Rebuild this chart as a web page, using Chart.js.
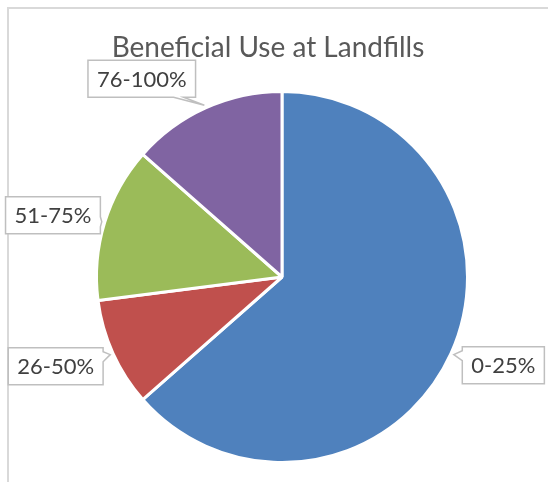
<!DOCTYPE html>
<html>
<head>
<meta charset="utf-8">
<script src="https://cdn.jsdelivr.net/npm/chart.js@4"></script>
<style>
  html, body { margin: 0; padding: 0; background: #fff; }
  #wrap { position: relative; width: 548px; height: 482px; }
  #frame {
    position: absolute; left: 7px; top: 7px; right: 0; bottom: 0;
    border-top: 2px solid #d9d9d9; border-left: 2px solid #d9d9d9;
  }
  canvas { position: absolute; left: 0; top: 0; }
</style>
</head>
<body>
<div id="wrap">
  <div id="frame"></div>
  <canvas id="landfillChart"></canvas>
</div>
<script>
const titleText = "Beneficial Use at Landfills";
const categories = ["0-25%", "26-50%", "51-75%", "76-100%"];
const landfillCounts = [47, 7, 10, 10];
const sliceColors = ["#4f81bd", "#c0504d", "#9bbb59", "#8064a2"];

const FONT = "Lato, 'Open Sans', sans-serif";
// shift of each callout box away from its default spot on the slice's mid-angle
const labelNudge = [[4, -10], [-9, -9], [-1, 8], [-42, 19]];

// callout boxes pointing at each slice, plus the title
const calloutLabels = {
  id: "calloutLabels",
  afterDraw(chart) {
    const ctx = chart.ctx;
    ctx.save();
    ctx.fillStyle = "#595959";
    ctx.font = "28px " + FONT;
    ctx.textAlign = "center";
    ctx.textBaseline = "middle";
    ctx.fillText(titleText, 268, 48);

    const meta = chart.getDatasetMeta(0);
    ctx.font = "22px " + FONT;
    meta.data.forEach((arc, i) => {
      const p = arc.getProps(["x", "y", "startAngle", "endAngle", "outerRadius"], true);
      const mid = (p.startAngle + p.endAngle) / 2;
      const dx = Math.cos(mid), dy = Math.sin(mid);
      const tipX = p.x + dx * (p.outerRadius + 3);
      const tipY = p.y + dy * (p.outerRadius + 3);
      const cx = p.x + dx * (p.outerRadius + 53) + labelNudge[i][0];
      const cy = p.y + dy * (p.outerRadius + 53) + labelNudge[i][1];
      const text = categories[i];
      const w = ctx.measureText(text).width + 18;
      const h = 37;
      const l = cx - w / 2, r = cx + w / 2, t = cy - h / 2, b = cy + h / 2;

      // which edge of the box faces the slice
      const rx = (tipX - cx) / (w / 2), ry = (tipY - cy) / (h / 2);
      const nw = 10;
      ctx.beginPath();
      ctx.moveTo(l, t);
      if (Math.abs(ry) > Math.abs(rx) && ry < 0) {
        const m = Math.min(Math.max(tipX, l + 12), r - 24);
        ctx.lineTo(m, t); ctx.lineTo(tipX, tipY); ctx.lineTo(m + nw, t);
      }
      ctx.lineTo(r, t);
      if (Math.abs(rx) >= Math.abs(ry) && rx > 0) {
        const m = Math.min(Math.max(tipY - nw / 2, t + 4), b - 4 - nw);
        ctx.lineTo(r, m); ctx.lineTo(tipX, tipY); ctx.lineTo(r, m + nw);
      }
      ctx.lineTo(r, b);
      if (Math.abs(ry) > Math.abs(rx) && ry > 0) {
        const m = Math.min(Math.max(tipX - 20, l + 12), r - 12 - nw);
        ctx.lineTo(m + nw, b); ctx.lineTo(tipX, tipY); ctx.lineTo(m, b);
      }
      ctx.lineTo(l, b);
      if (Math.abs(rx) >= Math.abs(ry) && rx < 0) {
        const m = Math.min(Math.max(tipY + nw / 2, t + 4 + nw), b - 4);
        ctx.lineTo(l, m); ctx.lineTo(tipX, tipY); ctx.lineTo(l, m - nw);
      }
      ctx.closePath();
      ctx.fillStyle = "#ffffff";
      ctx.fill();
      ctx.strokeStyle = "#bfbfbf";
      ctx.lineWidth = 1.5;
      ctx.stroke();

      ctx.fillStyle = "#404040";
      ctx.fillText(text, cx, cy + 1);
    });
    ctx.restore();
  }
};

const canvas = document.getElementById("landfillChart");
canvas.width = 548;
canvas.height = 482;
const ctx = canvas.getContext("2d");
const landfillChart = new Chart(ctx, {
  type: "pie",
  data: {
    labels: categories,
    datasets: [
      {
        data: landfillCounts,
        backgroundColor: sliceColors,
        borderColor: "#ffffff",
        borderWidth: 3,
      },
    ],
  },
  options: {
    responsive: false,
    animation: false,
    events: [],
    layout: {
      padding: { top: 90, bottom: 18, left: 95, right: 79 },
    },
    plugins: {
      legend: { display: false },
      tooltip: { enabled: false },
      title: { display: false },
    },
  },
  plugins: [calloutLabels],
});
</script>
</body>
</html>
